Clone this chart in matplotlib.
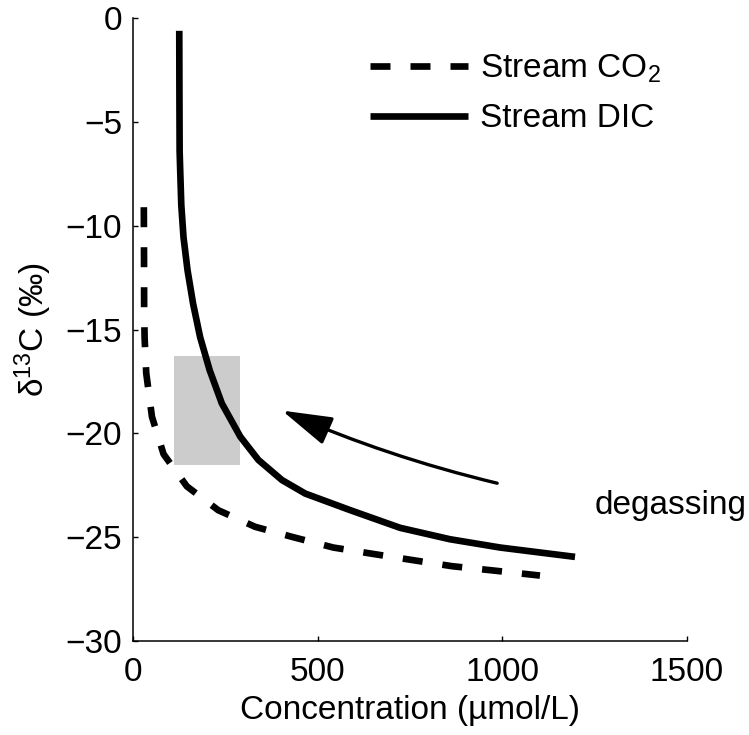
import numpy as np
import matplotlib
matplotlib.use('Agg')
import matplotlib.pyplot as plt
from matplotlib.lines import Line2D
from matplotlib.patches import Rectangle, FancyArrowPatch

plt.rcParams['font.family'] = ['Liberation Sans', 'DejaVu Sans']
plt.rcParams['mathtext.fontset'] = 'custom'
plt.rcParams['mathtext.rm'] = 'Liberation Sans'
plt.rcParams['mathtext.it'] = 'Liberation Sans:italic'

# values
dic_conc = [124.5, 125, 125.5, 127, 130, 136, 147, 162, 181, 207, 240, 290, 339, 403, 466,
            588, 723, 858, 994, 1197]
dic_d13c = [-0.6, -4.0, -6.4, -7.3, -9.0, -10.55, -12.15, -13.75, -15.36, -16.96, -18.56,
            -20.16, -21.28, -22.25, -22.9, -23.7, -24.55, -25.1, -25.5, -25.95]

co2_conc = [28.5, 29, 29.3, 30.6, 35, 50.5, 82, 145, 230, 330, 433, 542, 647, 755, 864, 972, 1102]
co2_d13c = [-9.1, -11.5, -14.0, -15.4, -17.1, -19.2, -21.0, -22.55, -23.7, -24.5, -25.0,
            -25.5, -25.8, -26.1, -26.4, -26.6, -26.85]

# observed range (grey box)
box_conc = [109, 290]
box_d13c = [-21.5, -16.25]

# degassing arrow (tail -> head)
arrow_conc = [986, 403]
arrow_d13c = [-22.4, -18.9]

x_ticks = [0, 500, 1000, 1500]
y_ticks = [-30, -25, -20, -15, -10, -5, 0]

fs = 24
lw = 4.8

fig = plt.figure(figsize=(7.49, 7.35), dpi=100)
ax = fig.add_axes([0.178, 0.128, 0.739, 0.847])

ax.add_patch(Rectangle((box_conc[0], box_d13c[0]), box_conc[1] - box_conc[0],
                       box_d13c[1] - box_d13c[0], facecolor='#cccccc', edgecolor='none', zorder=1))

ln_co2, = ax.plot(co2_conc, co2_d13c, color='black', lw=lw, dash_capstyle='butt',
                  dash_joinstyle='round', zorder=2)
ln_co2.set_dashes([3.0, 3.0])
ln_dic, = ax.plot(dic_conc, dic_d13c, color='black', lw=lw, solid_capstyle='butt',
                  solid_joinstyle='round', zorder=3)

arr = FancyArrowPatch((arrow_conc[0], arrow_d13c[0]), (arrow_conc[1], arrow_d13c[1]),
                      connectionstyle='arc3,rad=-0.045',
                      arrowstyle='-|>,head_length=31,head_width=9',
                      mutation_scale=1, lw=2.4, color='black', shrinkA=0, shrinkB=0, zorder=4)
ax.add_patch(arr)

ax.text(1251, -23.9, 'degassing', fontsize=fs, ha='left', va='baseline', clip_on=False)

ax.set_xlim(0, 1500)
ax.set_ylim(-30, 0)
ax.set_xticks(x_ticks)
ax.set_yticks(y_ticks)
ax.set_yticklabels(['\u2212' + str(-v) if v < 0 else str(v) for v in y_ticks])
ax.tick_params(direction='in', length=3.5, width=1, labelsize=fs)
ax.tick_params(axis='y', pad=8)
ax.tick_params(axis='x', pad=11.5)
for s in ['top', 'right']:
    ax.spines[s].set_visible(False)
for s in ['left', 'bottom']:
    ax.spines[s].set_linewidth(1.1)

ax.set_xlabel('Concentration (\u00b5mol/L)', fontsize=fs, labelpad=5)
ax.set_ylabel('\u03b4$^{13}$C (\u2030)', fontsize=fs, labelpad=8)

h_co2 = Line2D([], [], color='black', lw=lw, dash_capstyle='butt')
h_co2.set_dashes([3.0, 3.0])
h_dic = Line2D([], [], color='black', lw=lw, solid_capstyle='butt')
ax.legend([h_co2, h_dic], ['Stream CO$_2$', 'Stream DIC'], fontsize=fs, frameon=False,
          loc='upper left', bbox_to_anchor=(370 / 749, 1 - 53 / 735),
          bbox_transform=fig.transFigure, borderpad=0, borderaxespad=0,
          handlelength=2.94, handletextpad=0.36, labelspacing=0.54)

fig.savefig('out.png', dpi=100)
